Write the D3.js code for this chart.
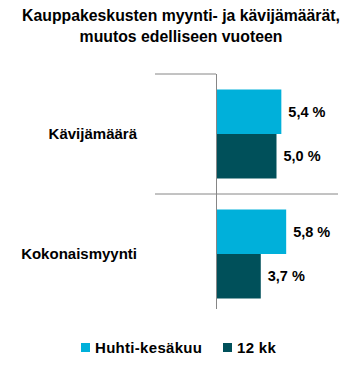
<!DOCTYPE html>
<html>
<head>
<meta charset="utf-8">
<script src="https://cdn.jsdelivr.net/npm/d3@7"></script>
<style>
  body { margin: 0; background: #fff; }
  text { font-family: "Liberation Sans", Arial, sans-serif; font-weight: bold; fill: #000; }
</style>
</head>
<body>
<div id="chart"></div>
<script>
// Data
const categories = ['Kävijämäärä', 'Kokonaismyynti'];
const seriesNames = ['Huhti-kesäkuu', '12 kk'];
const seriesColors = ['#00b0da', '#00505a'];
const values = [
  [5.4, 5.8],   // Huhti-kesäkuu
  [5.0, 3.7]    // 12 kk
];
const titleLines = ['Kauppakeskusten myynti- ja kävijämäärät,', 'muutos edelliseen vuoteen'];

const width = 362, height = 373;
const svg = d3.select('#chart').append('svg')
  .attr('width', width)
  .attr('height', height);

// Title
svg.append('text')
  .attr('x', 181)
  .attr('y', 21)
  .attr('text-anchor', 'middle')
  .style('font-size', '15.8px')
  .selectAll('tspan')
  .data(titleLines)
  .enter().append('tspan')
  .attr('x', 181)
  .attr('dy', function(d, i) { return i === 0 ? 0 : 21; })
  .text(function(d) { return d; });

// Scales
const x = d3.scaleLinear().domain([0, 10]).range([216, 337]);
const y = d3.scaleBand().domain(categories).range([74, 314]).paddingInner(0).paddingOuter(0);
const inner = d3.scaleBand().domain([0, 1]).range([15.5, y.bandwidth() - 15.5]);

// Separator lines
const axisColor = '#868686';
svg.append('line')
  .attr('x1', 155).attr('x2', x(0))
  .attr('y1', y(categories[0])).attr('y2', y(categories[0]))
  .attr('stroke', axisColor);
svg.append('line')
  .attr('x1', 155).attr('x2', x(10) + 1)
  .attr('y1', y(categories[1])).attr('y2', y(categories[1]))
  .attr('stroke', axisColor);

// Bars
const groups = svg.append('g').selectAll('g')
  .data(categories)
  .enter().append('g')
  .attr('transform', function(d) { return 'translate(0,' + y(d) + ')'; });

groups.each(function(cat, ci) {
  const g = d3.select(this);
  values.forEach(function(series, si) {
    const v = series[ci];
    g.append('rect')
      .attr('x', x(0))
      .attr('y', inner(si))
      .attr('width', x(v) - x(0))
      .attr('height', inner.bandwidth())
      .attr('fill', seriesColors[si]);
    g.append('text')
      .attr('x', x(v) + 7)
      .attr('y', inner(si) + inner.bandwidth() / 2)
      .attr('dy', '0.35em')
      .style('font-size', '14.5px')
      .text(d3.format('.1f')(v).replace('.', ',') + ' %');
  });
  g.append('text')
    .attr('x', 137)
    .attr('y', y.bandwidth() / 2)
    .attr('dy', '0.35em')
    .attr('text-anchor', 'end')
    .style('font-size', '15px')
    .text(cat);
});

// Vertical axis line
svg.append('line')
  .attr('x1', x(0) + 0.5).attr('x2', x(0) + 0.5)
  .attr('y1', 74).attr('y2', 309)
  .attr('stroke', axisColor);

// Legend
const legendX = [81, 223];
const legend = svg.append('g').selectAll('g')
  .data(seriesNames)
  .enter().append('g')
  .attr('transform', function(d, i) { return 'translate(' + legendX[i] + ',343)'; });
legend.append('rect')
  .attr('width', 9).attr('height', 9)
  .attr('fill', function(d, i) { return seriesColors[i]; });
legend.append('text')
  .attr('x', 14)
  .attr('y', 5)
  .attr('dy', '0.35em')
  .style('font-size', '15px')
  .style('letter-spacing', '0.3px')
  .text(function(d) { return d; });
</script>
</body>
</html>
